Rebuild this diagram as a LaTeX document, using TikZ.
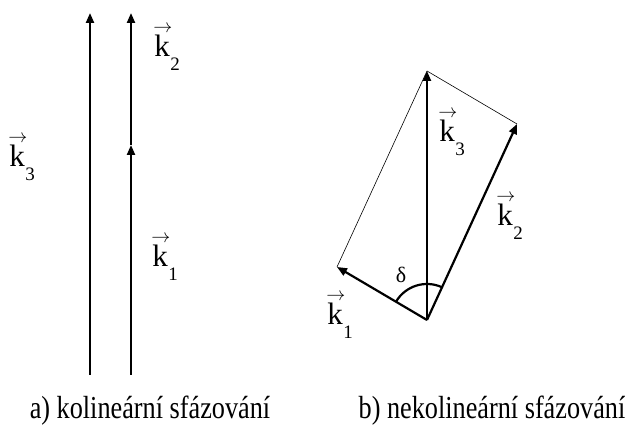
\documentclass[tikz,border=0pt]{standalone}
\usepackage{fix-cm}
\usepackage{amsmath}
\usepackage{fontspec}
\setmainfont{Liberation Serif}
\newfontfamily\capfont[FakeStretch=0.82]{Liberation Serif}
\usepackage{tikz}
\usetikzlibrary{arrows.meta,positioning,calc}
% k with a short arrow above and a low subscript
\newcommand{\kvec}[1]{\makebox[0pt][l]{\kern-1pt\raisebox{24pt}{\fontsize{19}{20}\selectfont$\rightarrow$}}k\kern0.5pt\raisebox{-14pt}{\fontsize{19}{21}\selectfont #1}}
\tikzset{
  kvecline/.style = {-{Triangle[length=10pt,width=8pt]}, line width=2.2pt, black},
  kline/.style    = {line width=2.2pt, black},
  kthin/.style    = {line width=0.6pt, black},
  klabel/.style   = {inner sep=0pt, font=\fontsize{31}{34}\selectfont},
  capnode/.style  = {inner sep=0pt, anchor=base, font=\capfont\fontsize{32}{36}\selectfont},
}

\begin{document}
\begin{tikzpicture}[x=1pt,y=1pt]
\useasboundingbox (0,0) rectangle (629,427);
% a) collinear case: two vertical lines
\coordinate (aBot) at (90,52);
\coordinate (aTop) at (90,414);
\coordinate (bBot) at (131,52);
\coordinate (bMid) at (131,282);
\coordinate (bTop) at (131,414);
\draw[kvecline] (aBot) -- (aTop);
\draw[kvecline] (bBot) -- (bMid);
\draw[kvecline] (bMid) -- (bTop);
\node[klabel] (aK2) at (167,379) {\kvec{2}};
\node[klabel] (aK3) at (22,269)  {\kvec{3}};
\node[klabel] (aK1) at (165,169) {\kvec{1}};
% b) non-collinear case: parallelogram
\coordinate (O)  at (427,107);
\coordinate (K1) at (337,160);
\coordinate (K2) at (517,303);
\coordinate (K3) at (427,356);
\draw[kthin] (K1) -- (K3);
\draw[kthin] (K2) -- (K3);
\draw[kvecline] (O) -- (K1);
\draw[kvecline] (O) -- (K2);
\draw[kvecline] (O) -- (K3);
\draw[kline] ($(O)+(149.5:36)$) arc[start angle=149.5, end angle=65.3, radius=36];
\node[klabel] (bK3) at (452,294) {\kvec{3}};
\node[klabel] (bK2) at (510,210) {\kvec{2}};
\node[klabel] (bK1) at (340,111) {\kvec{1}};
\node[inner sep=0pt, font=\fontsize{22}{24}\selectfont] (delta) at (401,152) {δ};
% captions
\node[capnode] (capA) at (150,8) {a) kolineární sfázování};
\node[capnode] (capB) at (492,8) {b) nekolineární sfázování};
\end{tikzpicture}
\end{document}
